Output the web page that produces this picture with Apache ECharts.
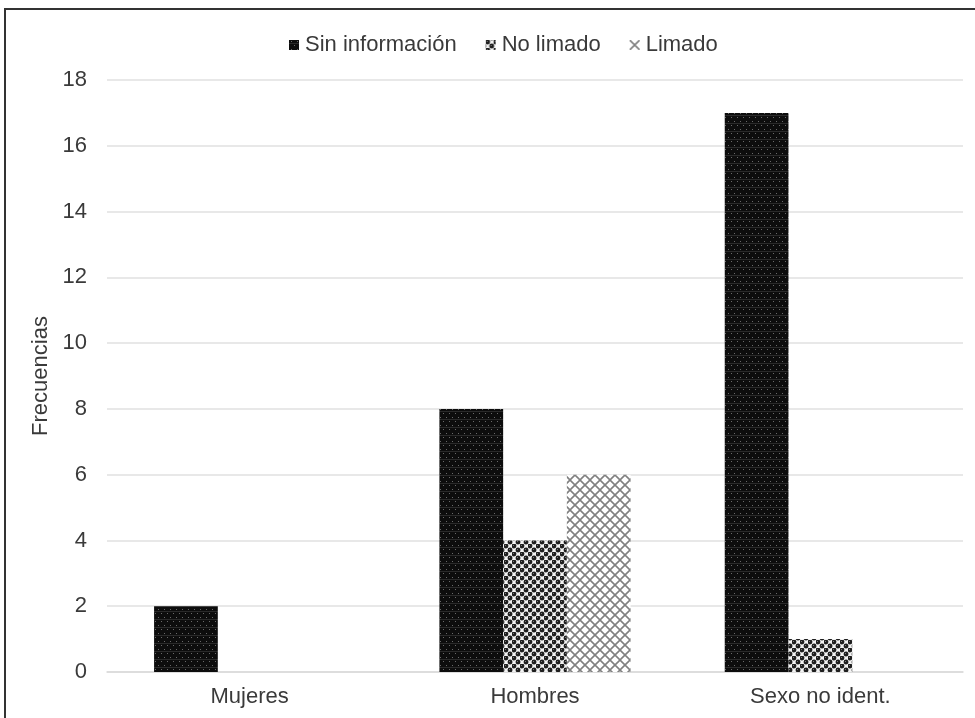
<!DOCTYPE html>
<html>
<head>
<meta charset="utf-8">
<script src="https://cdn.jsdelivr.net/npm/echarts@6/dist/echarts.min.js"></script>
<style>
html,body{margin:0;padding:0;background:#fff;}
#c{width:975px;height:718px;}
</style>
</head>
<body>
<div id="c"></div>
<script>
const categories = ['Mujeres', 'Hombres', 'Sexo no ident.'];
const seriesNames = ['Sin información', 'No limado', 'Limado'];
const sinInformacion = [2, 8, 17];
const noLimado = [0, 4, 1];
const limado = [0, 6, 0];
const yTicks = [0, 2, 4, 6, 8, 10, 12, 14, 16, 18];

function patSin() {
  const c = document.createElement('canvas');
  c.width = 12; c.height = 8;
  const g = c.getContext('2d');
  g.fillStyle = '#0d0d0d'; g.fillRect(0, 0, 12, 8);
  g.fillStyle = '#6a6a6a';
  g.fillRect(2, 1, 1, 1); g.fillRect(8, 1, 1, 1);
  g.fillRect(5, 5, 1, 1); g.fillRect(11, 5, 1, 1);
  g.fillStyle = '#2a2a2a';
  g.fillRect(0, 3, 12, 1);
  return c;
}
function patNo() {
  const c = document.createElement('canvas');
  c.width = 8; c.height = 8;
  const g = c.getContext('2d');
  g.fillStyle = '#f2f2f2'; g.fillRect(0, 0, 8, 8);
  g.fillStyle = '#1e1e1e';
  const dots = [[2, 2], [6, 6], [6, -2], [-2, 6], [10, 6], [6, 10], [-2, -2], [10, 10], [10, -2], [-2, 10]];
  dots.forEach(d => { g.beginPath(); g.arc(d[0], d[1], 2.4, 0, Math.PI * 2); g.fill(); });
  g.fillStyle = '#777';
  g.fillRect(1, 1, 1, 1); g.fillRect(5, 5, 1, 1);
  return c;
}
function patLim() {
  const c = document.createElement('canvas');
  c.width = 10; c.height = 10;
  const g = c.getContext('2d');
  g.fillStyle = '#ffffff'; g.fillRect(0, 0, 10, 10);
  g.strokeStyle = '#808080'; g.lineWidth = 1.6;
  g.beginPath();
  g.moveTo(0, 0); g.lineTo(10, 10);
  g.moveTo(10, 0); g.lineTo(0, 10);
  g.stroke();
  return c;
}
const pats = [patSin(), patNo(), patLim()];
const dataSets = [sinInformacion, noLimado, limado];

const FONT = 'Liberation Sans, Arial';
const labelColor = '#3a3a3a';
const chart = echarts.init(document.getElementById('c'), null, {renderer: 'canvas'});
chart.setOption({
  animation: false,
  backgroundColor: '#fff',
  graphic: [{
    type: 'rect',
    shape: {x: 5, y: 9, width: 1000, height: 760},
    style: {fill: 'none', stroke: '#333', lineWidth: 2},
    silent: true
  }],
  legend: {
    top: 29,
    left: 284,
    itemWidth: 10,
    itemHeight: 10,
    itemGap: 29,
    textStyle: {fontFamily: FONT, fontSize: 22, color: labelColor, padding: [0, 0, 0, 1]},
    data: seriesNames.map(n => ({name: n, icon: 'rect'}))
  },
  grid: {left: 107, right: 12, top: 80, bottom: 46, containLabel: false},
  xAxis: {
    type: 'category',
    data: categories,
    axisTick: {show: false},
    axisLine: {lineStyle: {color: '#d9d9d9', width: 1.5}},
    axisLabel: {fontFamily: FONT, fontSize: 22, color: labelColor, margin: 14}
  },
  yAxis: {
    type: 'value',
    min: 0, max: 18, interval: 2,
    name: 'Frecuencias',
    nameLocation: 'middle',
    nameGap: 51,
    nameRotate: 90,
    nameTextStyle: {fontFamily: FONT, fontSize: 22, color: labelColor},
    axisLine: {show: false},
    axisTick: {show: false},
    splitLine: {lineStyle: {color: '#e0e0e0', width: 1.5}},
    axisLabel: {fontFamily: FONT, fontSize: 22, color: labelColor, margin: 20,
      formatter: v => yTicks.includes(v) ? String(v) : ''}
  },
  series: seriesNames.map((n, i) => ({
    name: n,
    type: 'bar',
    data: dataSets[i],
    barGap: '0%',
    barCategoryGap: '33%',
    itemStyle: {color: {image: pats[i], repeat: 'repeat'}}
  }))
});
</script>
</body>
</html>
